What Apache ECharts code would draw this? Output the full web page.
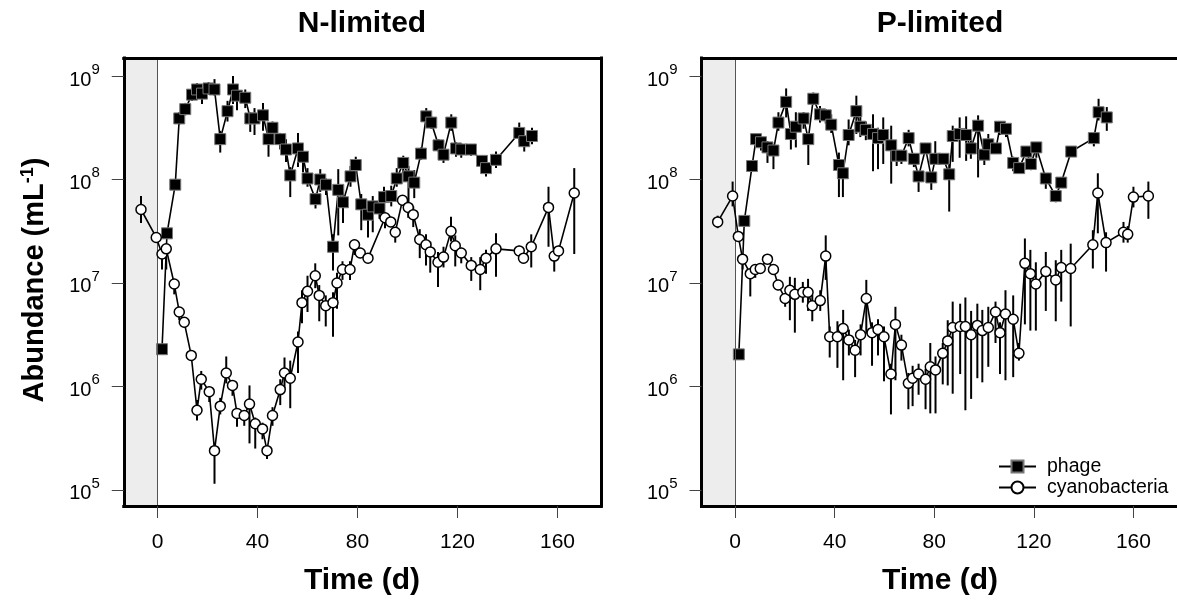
<!DOCTYPE html>
<html>
<head>
<meta charset="utf-8">
<script src="https://cdn.jsdelivr.net/npm/echarts@6/dist/echarts.min.js"></script>
<style>
  html, body { margin: 0; padding: 0; background: #fff; }
  #chart { width: 1177px; height: 601px; }
</style>
</head>
<body>
<div id="chart"></div>
<script>
// tick positions: days and log10(abundance)
const xTicks = [0, 40, 80, 120, 160];
const yTicks = [5, 6, 7, 8, 9];

// N-limited, phage (day, log10 abundance per mL, error up / down in decades)
const nPhageDay = [1.8, 3.8, 7.1, 8.7, 11.1, 13.8, 15.8, 17.8, 20.4, 22.8, 25.1, 28.0, 30.2, 31.8, 35.1, 37.1, 38.8, 42.2, 44.4, 46.0,
  49.1, 51.4, 53.1, 56.2, 58.2, 60.0, 63.2, 65.1, 67.4, 70.2, 72.3, 74.2, 77.2, 79.3, 81.5, 84.2, 86.1, 88.8, 90.6, 93.5,
  95.7, 98.3, 100.4, 102.7, 105.4, 107.5, 109.5, 112.4, 114.4, 117.5, 119.4, 121.5, 125.4, 129.8, 131.4, 135.4, 144.7, 146.7, 149.8];
const nPhageLog = [6.36, 7.48, 7.95, 8.59, 8.68, 8.82, 8.87, 8.83, 8.88, 8.87, 8.39, 8.66, 8.87, 8.81, 8.79, 8.59, 8.59, 8.62, 8.39, 8.50,
  8.39, 8.29, 8.04, 8.30, 8.22, 8.01, 7.81, 8.00, 7.95, 7.35, 7.90, 7.78, 8.03, 8.14, 7.76, 7.66, 7.74, 7.72, 7.83, 7.84,
  8.01, 8.16, 8.03, 7.97, 8.25, 8.61, 8.55, 8.33, 8.24, 8.55, 8.30, 8.29, 8.29, 8.18, 8.11, 8.19, 8.45, 8.37, 8.42];
const nPhageUp = [.04, .05, .05, .06, .06, .05, .06, .06, .06, .10, .08, .10, .13, .06, .08, .06, .10, .12, .06, .06,
  .06, .10, .08, .15, .08, .10, .06, .10, .06, .12, .20, .10, .10, .08, .10, .13, .10, .12, .10, .10,
  .10, .07, .10, .12, .06, .08, .06, .06, .06, .08, .06, .06, .05, .05, .05, .08, .10, .06, .08];
const nPhageDn = [.04, .05, .05, .06, .06, .06, .06, .10, .06, .06, .13, .10, .14, .14, .10, .13, .16, .15, .17, .06,
  .10, .12, .21, .18, .15, .08, .09, .12, .10, .23, .44, .20, .10, .08, .25, .22, .25, .10, .15, .10,
  .08, .10, .25, .15, .06, .06, .06, .06, .08, .08, .08, .08, .06, .06, .08, .08, .10, .10, .08];

// N-limited, cyanobacteria
const nCyanoDay = [-6.6, -0.5, 1.8, 3.5, 6.7, 8.7, 10.7, 13.5, 15.8, 17.5, 20.7, 22.8, 25.1, 27.5, 30.0, 31.8, 34.7, 36.8, 39.1, 42.0,
  43.8, 46.0, 49.1, 50.8, 53.1, 56.2, 57.8, 60.0, 63.1, 64.7, 67.3, 70.2, 71.8, 74.0, 77.0, 78.8, 81.1, 84.2, 91.0, 93.3,
  95.1, 98.0, 100.3, 102.3, 104.9, 107.4, 109.1, 112.2, 114.4, 117.4, 119.1, 121.5, 125.5, 129.1, 131.4, 135.4, 144.7, 146.4, 149.5, 156.4,
  158.7, 160.4, 166.7];
const nCyanoLog = [7.71, 7.44, 7.28, 7.33, 6.99, 6.72, 6.62, 6.30, 5.77, 6.07, 5.95, 5.38, 5.81, 6.13, 6.01, 5.74, 5.72, 5.83, 5.64, 5.59,
  5.38, 5.72, 5.97, 6.13, 6.08, 6.43, 6.81, 6.92, 7.07, 6.88, 6.78, 6.81, 7.00, 7.13, 7.13, 7.37, 7.29, 7.24, 7.63, 7.59,
  7.49, 7.80, 7.73, 7.66, 7.42, 7.37, 7.30, 7.20, 7.25, 7.50, 7.36, 7.29, 7.17, 7.13, 7.24, 7.33, 7.31, 7.24, 7.35, 7.73,
  7.26, 7.31, 7.87];
const nCyanoUp = [.13, .05, .05, .05, .05, .05, .05, .05, .10, .08, .05, .05, .08, .16, .05, .05, .05, .18, .06, .06,
  .05, .08, .10, .15, .17, .10, .12, .15, .12, .10, .10, .10, .10, .08, .08, .05, .05, .05, .05, .05,
  .05, .05, .05, .08, .10, .10, .10, .10, .10, .14, .10, .05, .08, .12, .08, .15, .05, .05, .12, .20,
  .05, .05, .24];
const nCyanoDn = [.13, .05, .15, .20, .10, .08, .05, .05, .10, .10, .10, .32, .08, .10, .10, .13, .10, .38, .24, .10,
  .08, .10, .15, .15, .29, .30, .20, .20, .12, .25, .20, .33, .25, .10, .10, .10, .05, .05, .10, .05,
  .10, .05, .10, .12, .18, .20, .20, .24, .10, .10, .20, .10, .15, .20, .15, .27, .05, .05, .20, .38,
  .15, .05, .59];

// P-limited, phage
const pPhageDay = [1.5, 3.7, 6.8, 8.4, 10.4, 13.0, 15.4, 17.4, 20.5, 22.4, 24.4, 27.5, 29.4, 31.4, 34.1, 36.4, 38.6, 41.7, 43.3, 45.6,
  48.7, 50.3, 52.5, 55.4, 57.4, 59.5, 62.7, 64.9, 66.8, 69.7, 71.8, 73.7, 76.5, 78.8, 80.4, 83.7, 86.0, 87.4, 90.2, 92.8,
  94.7, 97.6, 100.1, 101.7, 104.8, 106.4, 108.8, 111.7, 114.1, 117.0, 118.8, 121.0, 124.8, 128.8, 131.0, 135.0, 144.1, 146.0, 149.3];
const pPhageLog = [6.31, 7.60, 8.13, 8.39, 8.36, 8.31, 8.28, 8.55, 8.75, 8.44, 8.51, 8.59, 8.39, 8.78, 8.63, 8.62, 8.53, 8.14, 8.06, 8.43,
  8.66, 8.51, 8.48, 8.44, 8.40, 8.43, 8.33, 8.23, 8.23, 8.40, 8.20, 8.03, 8.30, 8.02, 8.20, 8.20, 8.05, 8.42, 8.44, 8.43,
  8.30, 8.52, 8.24, 8.34, 8.30, 8.51, 8.49, 8.16, 8.11, 8.27, 8.15, 8.31, 8.01, 7.84, 7.97, 8.27, 8.40, 8.65, 8.60];
const pPhageUp = [.03, .04, .05, .05, .06, .06, .06, .10, .13, .10, .14, .06, .05, .06, .08, .06, .10, .12, .06, .15,
  .15, .10, .08, .19, .10, .17, .19, .05, .05, .08, .05, .05, .05, .05, .17, .05, .10, .10, .16, .18,
  .10, .10, .10, .10, .05, .05, .05, .06, .05, .05, .06, .05, .05, .05, .05, .05, .05, .13, .10];
const pPhageDn = [.03, .04, .05, .05, .08, .15, .18, .08, .15, .15, .20, .10, .25, .06, .08, .08, .08, .31, .23, .10,
  .22, .10, .10, .36, .30, .28, .37, .10, .08, .08, .08, .15, .05, .12, .05, .05, .36, .25, .23, .25,
  .10, .50, .10, .10, .05, .08, .08, .08, .05, .05, .06, .10, .10, .06, .05, .05, .08, .08, .13];

// P-limited, cyanobacteria
const pCyanoDay = [-7.0, -1.0, 1.3, 3.0, 6.1, 8.1, 10.1, 13.0, 15.4, 17.3, 20.1, 22.0, 24.0, 27.2, 29.3, 31.0, 34.2, 36.4, 38.0, 41.1,
  43.4, 45.7, 48.2, 50.4, 52.7, 55.0, 57.4, 59.8, 62.6, 64.4, 66.8, 69.6, 71.3, 73.7, 76.5, 78.4, 80.5, 83.4, 85.4, 87.4,
  90.4, 92.5, 94.8, 97.3, 99.3, 101.7, 104.6, 106.4, 108.6, 111.7, 114.0, 116.4, 118.6, 120.8, 124.8, 128.8, 131.0, 134.8, 143.7, 145.7,
  149.0, 156.0, 157.7, 160.0, 166.0];
const pCyanoLog = [7.59, 7.84, 7.45, 7.23, 7.09, 7.13, 7.14, 7.23, 7.13, 6.98, 6.85, 6.93, 6.89, 6.91, 6.91, 6.78, 6.83, 7.26, 6.48, 6.48,
  6.56, 6.45, 6.35, 6.50, 6.85, 6.52, 6.55, 6.48, 6.12, 6.60, 6.40, 6.03, 6.08, 6.12, 6.07, 6.19, 6.16, 6.32, 6.44, 6.57,
  6.58, 6.58, 6.50, 6.59, 6.54, 6.57, 6.72, 6.52, 6.70, 6.65, 6.32, 7.19, 7.09, 6.99, 7.11, 7.03, 7.15, 7.14, 7.37, 7.87,
  7.39, 7.49, 7.47, 7.83, 7.84];
const pCyanoUp = [.06, .14, .05, .05, .05, .05, .05, .05, .05, .05, .05, .13, .16, .10, .13, .11, .10, .20, .10, .15,
  .18, .10, .10, .10, .18, .10, .10, .10, .10, .17, .10, .10, .12, .10, .10, .23, .13, .10, .20, .25,
  .22, .28, .23, .21, .20, .20, .10, .10, .23, .23, .10, .24, .23, .21, .19, .19, .17, .24, .14, .19,
  .10, .10, .08, .10, .14];
const pCyanoDn = [.06, .10, .05, .10, .22, .08, .05, .05, .05, .05, .08, .29, .37, .10, .18, .15, .10, .23, .20, .30,
  .50, .15, .26, .20, .34, .32, .25, .43, .39, .54, .15, .25, .27, .20, .29, .45, .42, .30, .43, .64,
  .46, .81, .62, .51, .50, .38, .30, .40, .64, .56, .07, .59, .55, .45, .38, .40, .33, .56, .23, .39,
  .28, .10, .08, .10, .22];

const xMin = -13.5, xMax = 177.5;
const yMin = 4.845, yMax = 9.174;

const FONT = '"Liberation Sans", Arial, sans-serif';
const chart = echarts.init(document.getElementById('chart'));

function pts(days, vals) {
  return days.map((d, i) => [d, vals[i]]);
}

function errSeries(panel, days, vals, up, dn) {
  return {
    type: 'custom',
    xAxisIndex: panel * 2,
    yAxisIndex: panel * 2,
    silent: true,
    z: 3,
    data: days.map((d, i) => [d, vals[i], up[i], dn[i]]),
    encode: { x: 0, y: 1 },
    renderItem: (params, api) => {
      const x = api.value(0), y = api.value(1);
      const a = api.coord([x, y + api.value(2)]);
      const b = api.coord([x, y - api.value(3)]);
      return {
        type: 'line',
        shape: { x1: a[0], y1: a[1], x2: b[0], y2: b[1] },
        style: { stroke: '#000', lineWidth: 2 }
      };
    }
  };
}

function lineSeries(panel, name, days, vals, isPhage) {
  return {
    type: 'line',
    name: name,
    xAxisIndex: panel * 2,
    yAxisIndex: panel * 2,
    data: pts(days, vals),
    symbol: isPhage ? 'rect' : 'circle',
    symbolSize: isPhage ? 11 : 10,
    showAllSymbol: true,
    silent: true,
    z: isPhage ? 4 : 5,
    lineStyle: { color: '#000', width: 1.6 },
    itemStyle: isPhage
      ? { color: '#000', borderColor: '#777', borderWidth: 1 }
      : { color: '#fff', borderColor: '#000', borderWidth: 1.5 }
  };
}

function shadeSeries(panel) {
  return {
    type: 'line',
    xAxisIndex: panel * 2,
    yAxisIndex: panel * 2,
    data: [],
    silent: true,
    z: 1,
    markArea: {
      silent: true,
      itemStyle: { color: '#ededed' },
      data: [[{ xAxis: xMin }, { xAxis: 0 }]]
    },
    markLine: {
      silent: true,
      symbol: ['none', 'none'],
      label: { show: false },
      lineStyle: { color: '#555', width: 1, type: 'solid' },
      data: [{ xAxis: 0 }]
    }
  };
}

const frame = { show: true, onZero: false, lineStyle: { color: '#000', width: 3, cap: 'square' } };

function xAxes(panel) {
  return [
    {
      type: 'value', gridIndex: panel, min: xMin, max: xMax, z: 10,
      axisLine: frame,
      axisTick: { show: true, customValues: xTicks, length: 12, lineStyle: { color: '#444', width: 1 } },
      axisLabel: { customValues: xTicks, margin: 26, fontSize: 21, color: '#000', fontFamily: FONT },
      splitLine: { show: false }
    },
    {
      type: 'value', gridIndex: panel, min: xMin, max: xMax, position: 'top', z: 10,
      axisLine: frame, axisTick: { show: false }, axisLabel: { show: false }, splitLine: { show: false }
    }
  ];
}

function yAxes(panel) {
  return [
    {
      type: 'value', gridIndex: panel, min: yMin, max: yMax, position: 'left', z: 10,
      axisLine: frame,
      axisTick: { show: true, customValues: yTicks, length: 12, lineStyle: { color: '#444', width: 1 } },
      axisLabel: {
        customValues: yTicks, margin: 24, color: '#000', fontFamily: FONT,
        formatter: v => '{b|10}{s|' + v + '}',
        rich: {
          b: { fontSize: 20, fontFamily: FONT, color: '#000', lineHeight: 28, verticalAlign: 'bottom' },
          s: { fontSize: 15, fontFamily: FONT, color: '#000', lineHeight: 15, verticalAlign: 'top' }
        }
      },
      splitLine: { show: false }
    },
    {
      // right frame edge; the P-limited one falls just outside the picture
      type: 'value', gridIndex: panel, min: yMin, max: yMax, position: 'right', z: 10,
      axisLine: panel === 0 ? frame : { show: false },
      axisTick: { show: false }, axisLabel: { show: false }, splitLine: { show: false }
    }
  ];
}

function label(text, x, y, size, rot) {
  return {
    type: 'text', x: x, y: y, rotation: rot || 0, z: 20,
    style: {
      text: text, fill: '#000', fontSize: size, fontWeight: 'bold', fontFamily: FONT,
      align: 'center', verticalAlign: 'middle',
      rich: { sup: { fontSize: 18, fontWeight: 'bold', fontFamily: FONT, fill: '#000', padding: [0, 0, 14, 0] } }
    }
  };
}

const option = {
  animation: false,
  backgroundColor: '#fff',
  grid: [
    { left: 123.75, top: 58, width: 477.5, height: 448 },
    { left: 701.5, top: 58, width: 477.5, height: 448 }
  ],
  xAxis: xAxes(0).concat(xAxes(1)),
  yAxis: yAxes(0).concat(yAxes(1)),
  legend: {
    orient: 'vertical', left: 993, top: 451,
    itemWidth: 37, itemHeight: 15, itemGap: 0,
    selectedMode: false,
    data: ['phage', 'cyanobacteria'],
    textStyle: { fontSize: 19.5, color: '#000', fontFamily: FONT, lineHeight: 21, padding: [0, 0, 0, 6] }
  },
  graphic: [
    label('N-limited', 362, 24, 30),
    label('P-limited', 940, 24, 30),
    label('Time (d)', 362, 581, 30),
    label('Time (d)', 940, 581, 30),
    label('Abundance (mL{sup|-1})', 35, 280, 29, Math.PI / 2)
  ],
  series: [
    shadeSeries(0),
    shadeSeries(1),
    errSeries(0, nPhageDay, nPhageLog, nPhageUp, nPhageDn),
    errSeries(0, nCyanoDay, nCyanoLog, nCyanoUp, nCyanoDn),
    errSeries(1, pPhageDay, pPhageLog, pPhageUp, pPhageDn),
    errSeries(1, pCyanoDay, pCyanoLog, pCyanoUp, pCyanoDn),
    lineSeries(0, 'phage', nPhageDay, nPhageLog, true),
    lineSeries(0, 'cyanobacteria', nCyanoDay, nCyanoLog, false),
    lineSeries(1, 'phage', pPhageDay, pPhageLog, true),
    lineSeries(1, 'cyanobacteria', pCyanoDay, pCyanoLog, false)
  ]
};

chart.setOption(option);
</script>
</body>
</html>
